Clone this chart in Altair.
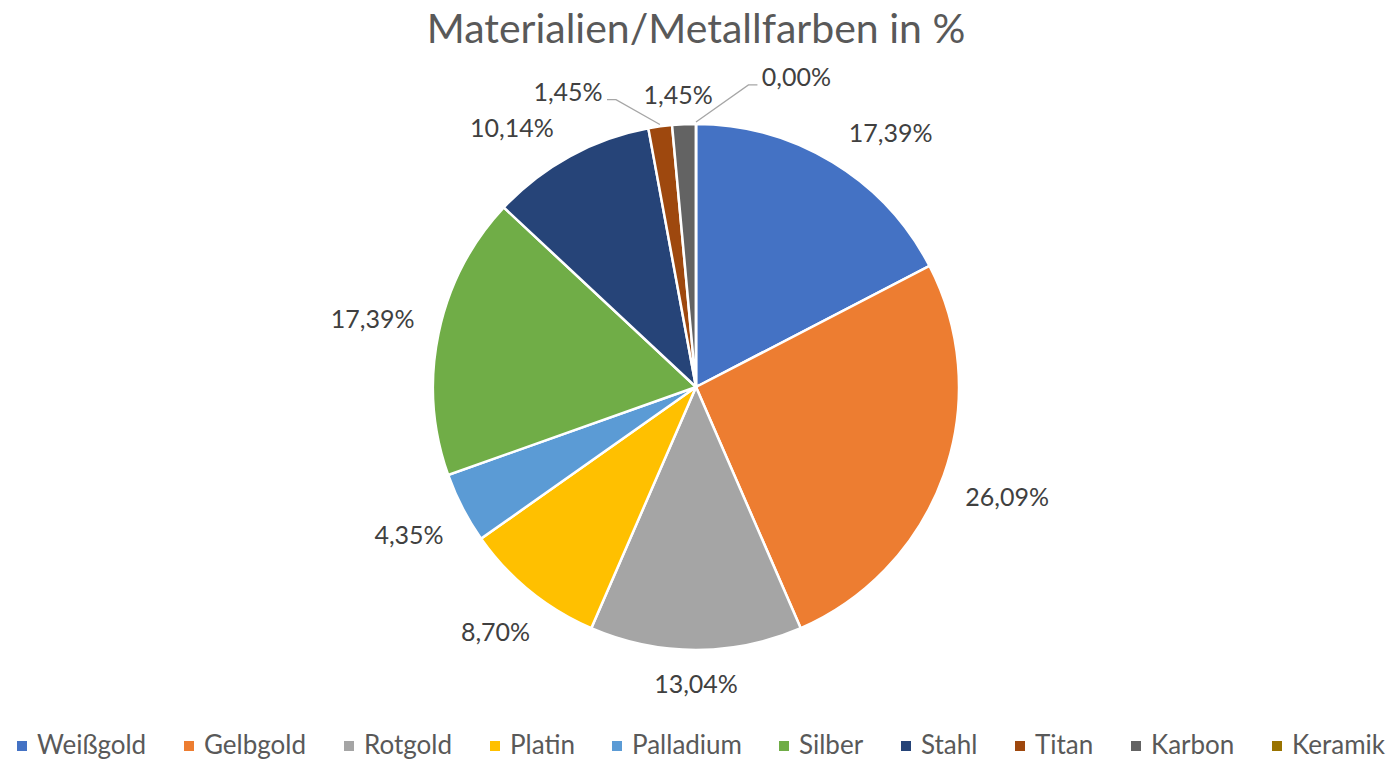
import altair as alt
import pandas as pd
import numpy as np

# ---- data ----
categories = ["Weißgold", "Gelbgold", "Rotgold", "Platin", "Palladium",
              "Silber", "Stahl", "Titan", "Karbon", "Keramik"]
values = [17.39, 26.09, 13.04, 8.70, 4.35, 17.39, 10.14, 1.45, 1.45, 0.00]
labels = ["17,39%", "26,09%", "13,04%", "8,70%", "4,35%",
          "17,39%", "10,14%", "1,45%", "1,45%", "0,00%"]
colors = ["#4472C4", "#ED7D31", "#A5A5A5", "#FFC000", "#5B9BD5",
          "#70AD47", "#264478", "#9E480E", "#636363", "#997300"]

# ---- layout / style ----
FONT = "Lato"
W, H = 1392, 654
PAD_TOP, PAD_BOTTOM = 60, 46
R = 263
cx, cy = W / 2, H / 2
LABEL_FS = 25
CHAR_W = 14
GAP = 24
HALF_H = 11
# best-fit label placements (angle deg, radius, leader side)
overrides = {"Weißgold": (37.6, 319, None), "Stahl": (324.5, 317, None),
             "Titan": (336.5, 321, "left"), "Karbon": (356.5, 292, None),
             "Keramik": (18.0, 325, "right")}

vals = np.array(values)
cum = np.cumsum(vals)
mid = (cum - vals / 2) / vals.sum() * 2 * np.pi

lx, ly = [], []
lines = []
for i, cat in enumerate(categories):
    hw = len(labels[i]) * CHAR_W / 2
    if cat in overrides:
        ang_deg, r, side = overrides[cat]
        a = np.radians(ang_deg)
    else:
        a = mid[i]
        r = R + GAP + hw * abs(np.sin(a)) + HALF_H * abs(np.cos(a))
        side = None
    x = cx + r * np.sin(a)
    y = cy - r * np.cos(a)
    lx.append(x)
    ly.append(y)
    if side is not None:
        sgn = 1 if side == "left" else -1
        ex = cx + (R + 2) * np.sin(mid[i])
        ey = cy - (R + 2) * np.cos(mid[i])
        p0 = (x + sgn * (hw + 4), y + 7)
        p1 = (p0[0] + sgn * 9, y + 7)
        for k, (px, py) in enumerate([p0, p1, (ex, ey)]):
            lines.append({"g": cat, "k": k, "x": px, "y": py})

df = pd.DataFrame({"cat": categories, "value": values, "label": labels,
                   "order": list(range(len(categories))), "lx": lx, "ly": ly})
df_lines = pd.DataFrame(lines)

arcs = alt.Chart(df).mark_arc(outerRadius=R, stroke="white", strokeWidth=2.5).encode(
    theta=alt.Theta("value:Q", stack=True),
    order=alt.Order("order:Q"),
    color=alt.Color(
        "cat:N",
        sort=categories,
        scale=alt.Scale(domain=categories, range=colors),
        legend=alt.Legend(
            title=None, orient="none", direction="horizontal", columns=10,
            legendX=9, legendY=673, symbolType="square", symbolSize=100,
            symbolStrokeWidth=0, labelFont=FONT, labelFontSize=26,
            labelColor="#595959", labelOffset=2, columnPadding=29, padding=0,
            labelLimit=300,
        ),
    ),
)

text = alt.Chart(df).mark_text(font=FONT, fontSize=LABEL_FS, color="#404040",
                               align="center", baseline="middle").encode(
    x=alt.X("lx:Q", scale=None),
    y=alt.Y("ly:Q", scale=None),
    text="label:N",
)

leader = alt.Chart(df_lines).mark_line(color="#A6A6A6", strokeWidth=1.3).encode(
    x=alt.X("x:Q", scale=None),
    y=alt.Y("y:Q", scale=None),
    detail="g:N",
    order="k:Q",
)

chart = alt.layer(arcs, leader, text).properties(
    width=W, height=H,
    title=alt.TitleParams("Materialien/Metallfarben in %", font=FONT, fontSize=41,
                          fontWeight="normal", color="#595959", anchor="middle",
                          offset=8),
    autosize=alt.AutoSizeParams(type="none"),
    padding={"top": PAD_TOP, "bottom": PAD_BOTTOM, "left": 0, "right": 2},
    background="white",
).configure_view(stroke=None)

chart.save("out.html", embed_options={"renderer": "svg", "actions": False})
